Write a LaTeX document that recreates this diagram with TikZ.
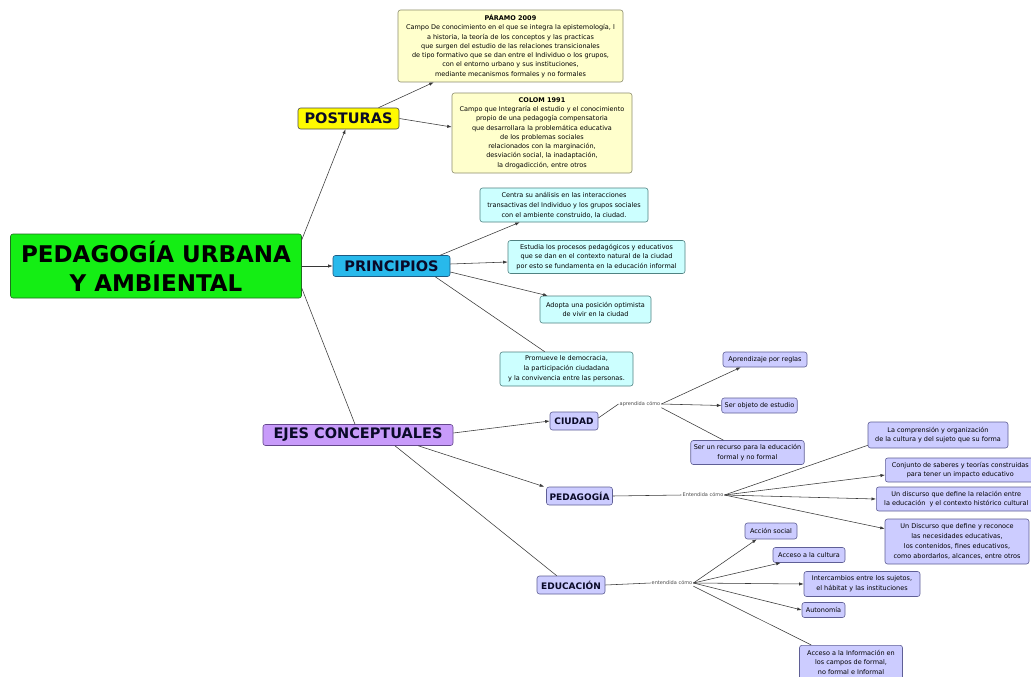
\documentclass[tikz,border=0pt]{standalone}
\usepackage{fontspec}
\setmainfont{DejaVu Sans}
\usetikzlibrary{arrows.meta,calc}
\definecolor{maingreen}{RGB}{20,238,20}
\definecolor{mainborder}{RGB}{30,110,30}
\definecolor{postyellow}{RGB}{255,250,0}
\definecolor{paleyellow}{RGB}{255,255,204}
\definecolor{paleyellowb}{RGB}{140,140,110}
\definecolor{princblue}{RGB}{40,185,235}
\definecolor{princbord}{RGB}{30,90,130}
\definecolor{palecyan}{RGB}{204,255,255}
\definecolor{palecyanb}{RGB}{80,130,130}
\definecolor{ejespurple}{RGB}{200,155,250}
\definecolor{ejesbord}{RGB}{100,70,140}
\definecolor{palelav}{RGB}{204,204,255}
\definecolor{palelavb}{RGB}{95,95,150}
\definecolor{linkgray}{RGB}{55,55,55}
\definecolor{cpttext}{RGB}{10,10,40}
\newcommand{\fsz}[2]{\fontsize{#1}{#2}\selectfont}
\tikzset{
  box/.style={draw, rounded corners=2.5pt, align=center, inner sep=2pt, line width=0.6pt},
  maincpt/.style={box, fill=maingreen, draw=mainborder, minimum width=291pt, minimum height=64pt, font=\fsz{23}{29}\bfseries},
  bigcpt/.style={box, font=\fsz{14.5}{17}\bfseries, text=cpttext, minimum height=21pt, inner xsep=3pt},
  yelbox/.style={box, fill=paleyellow, draw=paleyellowb, font=\fsz{6.5}{9.3}, inner xsep=3pt},
  cyanbox/.style={box, fill=palecyan, draw=palecyanb, font=\fsz{6.5}{9.8}, inner xsep=4pt},
  lavbox/.style={box, fill=palelav, draw=palelavb, font=\fsz{6.5}{9.8}, inner xsep=3pt},
  lavcpt/.style={box, fill=palelav, draw=palelavb, font=\fsz{9}{11}\bfseries, text=cpttext, minimum height=18pt, inner xsep=3pt},
  linklab/.style={font=\fsz{5}{6}, text=black!70, inner sep=1pt},
  link/.style={draw=linkgray, line width=0.55pt},
  arr/.style={link, -{Latex[length=4.5pt,width=3.2pt]}},
}
\begin{document}
\begin{tikzpicture}[x=1pt,y=-1pt]
\useasboundingbox (0,0) rectangle (1031,677);
\clip (0,0) rectangle (1031,677);
\fill[white] (0,0) rectangle (1031,677);

% main concepts
\node[maincpt] (main) at (156,266) {PEDAGOGÍA URBANA\\Y AMBIENTAL};
\node[bigcpt, fill=postyellow, draw=black!70, minimum width=101pt] (posturas) at (348.5,118.5) {POSTURAS};
\node[bigcpt, fill=princblue, draw=princbord, minimum width=117pt] (principios) at (391.5,266) {PRINCIPIOS};
\node[bigcpt, fill=ejespurple, draw=ejesbord, minimum width=190pt] (ejes) at (358,435) {EJES CONCEPTUALES};

% posturas
\node[yelbox, minimum width=225pt, minimum height=72pt] (paramo) at (510.5,46) {\textbf{PÁRAMO 2009}\\Campo De conocimiento en el que se integra la epistemología, l\\a historia, la teoría de los conceptos y las practicas\\que surgen del estudio de las relaciones transicionales\\de tipo formativo que se dan entre el Individuo o los grupos,\\con el entorno urbano y sus instituciones,\\mediante mecanismos formales y no formales};
\node[yelbox, minimum width=180pt, minimum height=80pt] (colom) at (542,133) {\textbf{COLOM 1991}\\Campo que Integraría el estudio y el conocimiento\\propio de una pedagogía compensatoria\\que desarrollara la problemática educativa\\de los problemas sociales\\relacionados con la marginación,\\desviación social, la inadaptación,\\la drogadicción, entre otros};

% principios
\node[cyanbox, minimum width=168pt, minimum height=34pt] (centra) at (564,205) {Centra su análisis en las interacciones\\transactivas del Individuo y los grupos sociales\\con el ambiente construido, la ciudad.};
\node[cyanbox, minimum width=177pt, minimum height=33pt] (estudia) at (596.5,257) {Estudia los procesos pedagógicos y educativos\\que se dan en el contexto natural de la ciudad\\por esto se fundamenta en la educación informal};
\node[cyanbox, minimum width=111pt, minimum height=27pt] (adopta) at (595.5,309.5) {Adopta una posición optimista\\de vivir en la ciudad};
\node[cyanbox, minimum width=133pt, minimum height=34pt] (promueve) at (566.5,369) {Promueve le democracia,\\la participación ciudadana\\y la convivencia entre las personas.};

% ejes
\node[lavcpt, minimum width=48pt] (ciudad) at (574,421) {CIUDAD};
\node[lavcpt, minimum width=65pt] (pedagogia) at (579.5,496) {PEDAGOGÍA};
\node[lavcpt, minimum width=68pt] (educacion) at (571,585) {EDUCACIÓN};

\node[linklab] (lab1) at (640,404) {aprendida cómo};
\node[linklab] (lab2) at (703,495) {Entendida cómo};
\node[linklab] (lab3) at (672,583) {entendida cómo};

\node[lavbox, minimum width=84pt, minimum height=15pt] (aprend) at (765,359.5) {Aprendizaje por reglas};
\node[lavbox, minimum width=75pt, minimum height=15pt] (serobj) at (759.5,405.5) {Ser objeto de estudio};
\node[lavbox, minimum width=111pt, minimum height=24pt] (recurso) at (747.5,452.5) {Ser un recurso para la educación\\formal y no formal};

\node[lavbox, minimum width=140pt, minimum height=26pt] (compren) at (938,435) {La comprensión y organización\\de la cultura y del sujeto que su forma};
\node[lavbox, minimum width=150pt, minimum height=24pt, anchor=west] (conjunto) at (885,470) {Conjunto de saberes y teorías construidas\\para tener un impacto educativo};
\node[lavbox, minimum width=160pt, minimum height=24pt, anchor=west] (discurso) at (876,499) {Un discurso que define la relación entre\\la educación \ y el contexto histórico cultural};
\node[lavbox, minimum width=144pt, minimum height=45pt] (discursob) at (957,541.5) {Un Discurso que define y reconoce\\las necesidades educativas,\\los contenidos, fines educativos,\\como abordarlos, alcances, entre otros};

\node[lavbox, minimum width=52pt, minimum height=16pt] (accion) at (771,531) {Acción social};
\node[lavbox, minimum width=72pt, minimum height=15pt] (acceso) at (809,555) {Acceso a la cultura};
\node[lavbox, minimum width=116pt, minimum height=25pt] (intercam) at (862,584) {Intercambios entre los sujetos,\\el hábitat y las instituciones};
\node[lavbox, minimum width=43pt, minimum height=15pt] (autonom) at (823.5,610) {Autonomía};
\node[lavbox, minimum width=103pt, minimum height=34pt, anchor=north] (informa) at (851,645) {Acceso a la Información en\\los campos de formal,\\no formal e Informal};

% connectors
\draw[arr] ($(main.north east)+(0,6)$) -- ($(posturas.south)+(-3,0)$);
\draw[arr] ($(posturas.north)+(30,0)$) -- ($(paramo.south west)+(36,0)$);
\draw[arr] (posturas.east) -- ($(colom.west)+(0,-6)$);
\draw[arr] (main.east) -- (principios.west);
\draw[link] ($(main.south east)+(0,-10)$) -- ($(ejes.north)+(-3,0)$);

\draw[arr] ($(principios.north east)+(-10,0)$) -- ($(centra.south west)+(40,0)$);
\draw[arr] ($(principios.east)+(0,-2)$) -- ($(estudia.west)+(0,5)$);
\draw[arr] ($(principios.east)+(0,6)$) -- ($(adopta.north west)+(8,0)$);
\draw[link] ($(principios.south east)+(-15,0)$) -- ($(promueve.north west)+(45,0)$);

\draw[arr] ($(ejes.east)+(0,-2)$) -- (ciudad.west);
\draw[arr] ($(ejes.south east)+(-35,0)$) -- ($(pedagogia.north west)+(-2,0)$);
\draw[link] ($(ejes.south)+(37,0)$) -- ($(educacion.north west)+(20,0)$);

\draw[link] ($(ciudad.east)+(0,-3)$) -- (lab1.west);
\draw[arr] (lab1.east) -- ($(aprend.south west)+(18,0)$);
\draw[arr] (lab1.east) -- (serobj.west);
\draw[link] (lab1.south east) -- ($(recurso.north west)+(33,0)$);

\draw[link] (pedagogia.east) -- (lab2.west);
\draw[link] (lab2.east) -- ($(compren.south west)+(0,-3)$);
\draw[arr] (lab2.east) -- ($(conjunto.west)+(0,5)$);
\draw[arr] (lab2.east) -- (discurso.west);
\draw[arr] (lab2.east) -- ($(discursob.north west)+(0,10)$);

\draw[link] (educacion.east) -- (lab3.west);
\draw[arr] (lab3.east) -- ($(accion.south west)+(12,0)$);
\draw[arr] (lab3.east) -- ($(acceso.south west)+(8,0)$);
\draw[arr] (lab3.east) -- (intercam.west);
\draw[arr] (lab3.east) -- (autonom.west);
\draw[link] (lab3.south east) -- ($(informa.north west)+(12,0)$);
\end{tikzpicture}
\end{document}
